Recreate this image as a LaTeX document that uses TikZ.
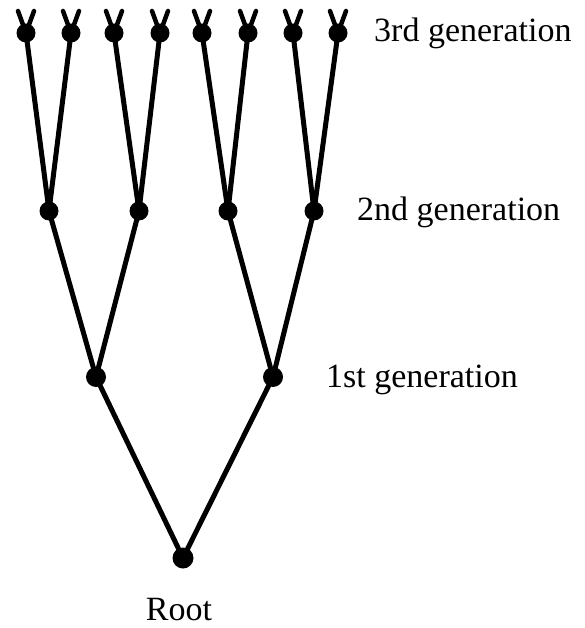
\documentclass[tikz,border=0pt]{standalone}
\usepackage{fontspec}
\setmainfont{Liberation Serif}
\begin{document}
\begin{tikzpicture}[x=1pt,y=-1pt,
  dot/.style={circle,fill=black,inner sep=0pt,minimum size=#1},
  dot/.default=19pt,
  edge/.style={line width=5pt,line cap=round},
  stub/.style={line width=4.5pt,line cap=round},
  lbl/.style={font=\fontsize{34}{34}\selectfont,inner sep=0pt}]
\useasboundingbox (0,0) rectangle (584,628);
% root and generations
\node[dot=21pt] (r) at (183,558) {};
\node[dot=20pt] (a1) at (96,377) {};
\node[dot=20pt] (a2) at (273,377) {};
\node[dot] (b1) at (49,211) {};
\node[dot] (b2) at (139,211) {};
\node[dot] (b3) at (228,211) {};
\node[dot] (b4) at (314,211) {};
\foreach \i/\x in {1/26,2/71,3/114,4/160,5/202,6/248,7/293,8/338}{
  \node[dot] (c\i) at (\x,33) {};
  \coordinate (c\i l) at (\x-8,11);
  \coordinate (c\i r) at (\x+8,11);
  \draw[stub] (c\i.center) -- (c\i l);
  \draw[stub] (c\i.center) -- (c\i r);
}
\draw[edge] (r.center) -- (a1.center);
\draw[edge] (r.center) -- (a2.center);
\draw[edge] (a1.center) -- (b1.center);
\draw[edge] (a1.center) -- (b2.center);
\draw[edge] (a2.center) -- (b3.center);
\draw[edge] (a2.center) -- (b4.center);
\draw[edge] (b1.center) -- (c1.center);
\draw[edge] (b1.center) -- (c2.center);
\draw[edge] (b2.center) -- (c3.center);
\draw[edge] (b2.center) -- (c4.center);
\draw[edge] (b3.center) -- (c5.center);
\draw[edge] (b3.center) -- (c6.center);
\draw[edge] (b4.center) -- (c7.center);
\draw[edge] (b4.center) -- (c8.center);
% labels
\node[lbl,anchor=west] (l3) at (374,33) {3rd generation};
\node[lbl,anchor=west] (l2) at (357,212) {2nd generation};
\node[lbl,anchor=west] (l1) at (326,380) {1st generation};
\node[lbl] (lr) at (179,610) {Root};
\end{tikzpicture}
\end{document}
